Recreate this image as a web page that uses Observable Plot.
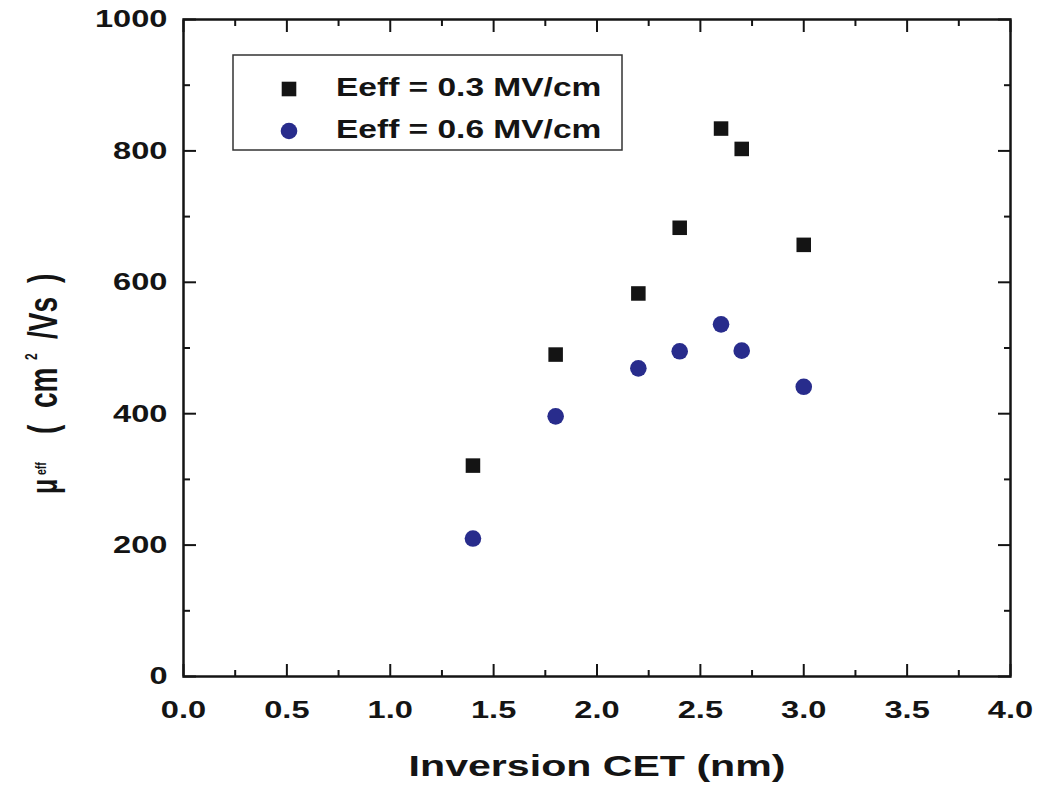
<!DOCTYPE html>
<html>
<head>
<meta charset="utf-8">
<script src="https://cdn.jsdelivr.net/npm/d3@7"></script>
<script src="https://cdn.jsdelivr.net/npm/@observablehq/plot@0.6"></script>
<style>
  body { margin: 0; background: #fff; }
  svg { display: block; }
</style>
</head>
<body>
<div id="chart"></div>
<script>
// ---- data ----
const cet = [1.4, 1.8, 2.2, 2.4, 2.6, 2.7, 3.0];            // Inversion CET (nm)
const mu03 = [321, 490, 583, 683, 834, 803, 657];           // Eeff = 0.3 MV/cm
const mu06 = [210, 396, 469, 495, 536, 496, 441];           // Eeff = 0.6 MV/cm
const seriesNames = ["Eeff = 0.3 MV/cm", "Eeff = 0.6 MV/cm"];
const xMajor = [0, 0.5, 1.0, 1.5, 2.0, 2.5, 3.0, 3.5, 4.0];
const xMinor = [0.25, 0.75, 1.25, 1.75, 2.25, 2.75, 3.25, 3.75];
const yMajor = [0, 200, 400, 600, 800, 1000];
const yMinor = [100, 300, 500, 700, 900];
const xLabel = "Inversion CET (nm)";
const yLabelParts = ["\u03bc", "eff", "(", "cm", "2", "/Vs", ")"];

// ---- build ----
const s03 = cet.map((x, i) => ({x, y: mu03[i]}));
const s06 = cet.map((x, i) => ({x, y: mu06[i]}));

const ink = "#141414";
const blue = "#282c8c";
const FONT = "'Liberation Sans', Arial, Helvetica, sans-serif";
const STRETCH = 1.33;   // the original face is a horizontally widened bold sans
const tk = (size) => ({tickSize: size, tickFormat: () => "", label: null, strokeWidth: 2});

const chart = Plot.plot({
  width: 1038,
  height: 793,
  marginLeft: 183,
  marginRight: 28,
  marginTop: 19,
  marginBottom: 117,
  style: {fontFamily: FONT, fontWeight: "bold", color: ink, background: "#fff"},
  x: {domain: [0, 4]},
  y: {domain: [0, 1000]},
  marks: [
    Plot.axisX(xMajor, {anchor: "bottom", tickSize: 0, tickPadding: 24, fontSize: 24.5, fontWeight: "bold",
      tickFormat: d3.format(".1f"), label: null}),
    Plot.axisY(yMajor, {anchor: "left", tickSize: 0, tickPadding: 16, fontSize: 24.5, fontWeight: "bold",
      tickFormat: d3.format("d"), label: null}),
    Plot.axisX(xMajor, {anchor: "bottom", ...tk(-12)}),
    Plot.axisX(xMinor, {anchor: "bottom", ...tk(-6)}),
    Plot.axisX(xMajor, {anchor: "top", ...tk(-12)}),
    Plot.axisX(xMinor, {anchor: "top", ...tk(-6)}),
    Plot.axisY(yMajor, {anchor: "left", ...tk(-13)}),
    Plot.axisY(yMinor, {anchor: "left", ...tk(-7)}),
    Plot.axisY(yMajor, {anchor: "right", ...tk(-13)}),
    Plot.axisY(yMinor, {anchor: "right", ...tk(-7)}),
    Plot.frame({strokeWidth: 2.5}),
    Plot.dot(s03, {x: "x", y: "y", symbol: "square", r: 8.2, fill: ink, stroke: null}),
    Plot.dot(s06, {x: "x", y: "y", symbol: "circle", r: 8.3, fill: blue, stroke: null}),
    Plot.text([xLabel], {frameAnchor: "bottom", dy: 99, fontSize: 30, fontWeight: "bold", fill: ink})
  ]
});

document.getElementById("chart").appendChild(chart);

const svg = d3.select(chart);
function widen(sel, k) {
  sel.each(function () {
    const w = this.getComputedTextLength();
    if (w > 0) {
      this.setAttribute("textLength", (w * k).toFixed(1));
      this.setAttribute("lengthAdjust", "spacingAndGlyphs");
    }
  });
}
widen(svg.selectAll('[aria-label="x-axis tick label"] text'), STRETCH);
widen(svg.selectAll('[aria-label="y-axis tick label"] text'), STRETCH);
widen(svg.selectAll('[aria-label="text"] text'), 1.37);

// y-axis title: mu with "eff" index, (cm^2/Vs); rotated, glyph height widened like the rest
const yLayout = [
  {x: 0,   y: 0,    fs: 25},   // μ
  {x: 19,  y: -7.5, fs: 10.5}, // eff
  {x: 60,  y: 0,    fs: 28},   // (
  {x: 86,  y: 0,    fs: 28},   // cm
  {x: 134, y: -14,  fs: 12},   // 2
  {x: 155, y: 0,    fs: 28},   // /Vs
  {x: 211, y: 0,    fs: 28}    // )
];
const yl = svg.append("text")
  .attr("transform", "translate(57,494) rotate(-90) scale(1,1.45)")
  .attr("text-anchor", "start")
  .attr("font-family", FONT)
  .attr("font-weight", "bold")
  .attr("fill", ink);
yLabelParts.forEach((t, i) => {
  const p = yLayout[i];
  yl.append("tspan").attr("x", p.x).attr("y", p.y).attr("font-size", p.fs).text(t);
});

// legend box
const lg = svg.append("g").attr("font-family", FONT).attr("font-weight", "bold");
lg.append("rect").attr("x", 233).attr("y", 55).attr("width", 389).attr("height", 95)
  .attr("fill", "#fff").attr("stroke", "#333").attr("stroke-width", 1.5);
lg.append("rect").attr("x", 289 - 7.3).attr("y", 89 - 7.3).attr("width", 14.6).attr("height", 14.6).attr("fill", ink);
lg.append("circle").attr("cx", 289).attr("cy", 131).attr("r", 8.3).attr("fill", blue);
seriesNames.forEach((name, i) => {
  lg.append("text").attr("x", 336).attr("y", i === 0 ? 96 : 138)
    .attr("text-anchor", "start")
    .attr("font-size", 25).attr("fill", ink).text(name);
});
widen(lg.selectAll("text"), 1.34);
</script>
</body>
</html>
